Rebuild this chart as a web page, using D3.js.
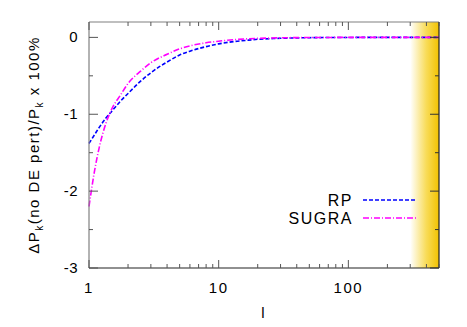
<!DOCTYPE html>
<meta charset="utf-8" />
<style>
  body { margin: 0; background: #fff; }
  text { font-family: "Liberation Sans", Arial, sans-serif; }
  .curve { fill: none; stroke-width: 1.6px; }
</style>
<body>
<script src="https://d3js.org/d3.v7.min.js"></script>
<script>

// multipole l and the two fractional power differences
var ell   = [1, 1.1, 1.2, 1.35, 1.5, 1.75, 2, 2.5, 3, 4, 5, 6, 8, 10, 13, 16, 20, 25, 30, 40, 50, 70, 100, 150, 200, 300, 500];
var rp    = [-1.38, -1.27, -1.17, -1.05, -0.96, -0.83, -0.73, -0.57, -0.46, -0.32, -0.23, -0.18, -0.12, -0.085, -0.055, -0.04, -0.025, -0.017, -0.012, -0.007, -0.004, -0.002, -0.001, 0, 0, 0, 0];
var sugra = [-2.2, -1.75, -1.43, -1.12, -0.93, -0.75, -0.6, -0.44, -0.33, -0.22, -0.15, -0.11, -0.07, -0.05, -0.03, -0.02, -0.013, -0.009, -0.006, -0.003, -0.002, -0.001, 0, 0, 0, 0, 0];
var seriesNames = ["RP", "SUGRA"];
var xTicks = [1, 10, 100];
var yTicks = [0, -1, -2, -3];
var bandStart = 300;

var margin = {top: 22, right: 28, bottom: 59, left: 89},
    width = 467 - margin.left - margin.right,
    height = 327 - margin.top - margin.bottom;

var x = d3.scaleLog().domain([1, 500]).range([0, width]);
var y = d3.scaleLinear().domain([-3, 0.2]).range([height, 0]);

var svg = d3.select("body").append("svg")
    .attr("width", 467)
    .attr("height", 327);

var defs = svg.append("defs");
var grad = defs.append("linearGradient").attr("id", "band")
    .attr("x1", "0%").attr("x2", "100%").attr("y1", "0%").attr("y2", "0%");
grad.append("stop").attr("offset", "0%").attr("stop-color", "#fff").attr("stop-opacity", 1);
grad.append("stop").attr("offset", "55%").attr("stop-color", "#f8dc5a");
grad.append("stop").attr("offset", "100%").attr("stop-color", "#f2c200");

var g = svg.append("g")
    .attr("transform", "translate(" + margin.left + "," + margin.top + ")");

// yellow band at high l
g.append("rect")
    .attr("x", x(bandStart))
    .attr("y", 0)
    .attr("width", width - x(bandStart))
    .attr("height", height)
    .attr("fill", "url(#band)");

// curves
var line = d3.line()
    .x(function(d) { return x(d[0]); })
    .y(function(d) { return y(d[1]); })
    .curve(d3.curveMonotoneX);

var colors = ["#0000ff", "#ff00ff"];
var dashes = ["4,2", "6,2,1,2"];
[rp, sugra].forEach(function(vals, i) {
  g.append("path")
      .datum(ell.map(function(l, j) { return [l, vals[j]]; }))
      .attr("class", "curve")
      .attr("stroke", colors[i])
      .attr("stroke-dasharray", dashes[i])
      .attr("d", line);
});

// frame
g.append("line").attr("x1", 0).attr("x2", width).attr("y1", 0).attr("y2", 0).attr("stroke", "#808080").attr("stroke-width", 1.2);
g.append("line").attr("x1", 0).attr("x2", 0).attr("y1", 0).attr("y2", height).attr("stroke", "#808080").attr("stroke-width", 1.2);
g.append("line").attr("x1", 0).attr("x2", width).attr("y1", height).attr("y2", height).attr("stroke", "#222").attr("stroke-width", 1.2);
g.append("line").attr("x1", width).attr("x2", width).attr("y1", 0).attr("y2", height).attr("stroke", "#222").attr("stroke-width", 1.2);

// x ticks (major + minor), mirrored on top
var xMinor = [];
[1, 10, 100].forEach(function(dec) {
  for (var k = 2; k <= 9; k++) { if (dec * k <= 500) xMinor.push(dec * k); }
});
xMinor.forEach(function(v) {
  g.append("line").attr("x1", x(v)).attr("x2", x(v)).attr("y1", height).attr("y2", height - 4).attr("stroke", "#555");
  g.append("line").attr("x1", x(v)).attr("x2", x(v)).attr("y1", 0).attr("y2", 4).attr("stroke", "#555");
});
xTicks.forEach(function(v) {
  g.append("line").attr("x1", x(v)).attr("x2", x(v)).attr("y1", height).attr("y2", height - 8).attr("stroke", "#555");
  g.append("line").attr("x1", x(v)).attr("x2", x(v)).attr("y1", 0).attr("y2", 8).attr("stroke", "#555");
  g.append("text")
      .attr("x", x(v)).attr("y", height + 25)
      .attr("text-anchor", "middle")
      .style("font-size", "15px")
      .style("letter-spacing", "1.5px")
      .text(v);
});

// y ticks (major + minor), mirrored on right
[-0.5, -1.5, -2.5].forEach(function(v) {
  g.append("line").attr("x1", 0).attr("x2", 4).attr("y1", y(v)).attr("y2", y(v)).attr("stroke", "#555");
  g.append("line").attr("x1", width).attr("x2", width - 4).attr("y1", y(v)).attr("y2", y(v)).attr("stroke", "#333");
});
yTicks.forEach(function(v) {
  g.append("line").attr("x1", 0).attr("x2", 9).attr("y1", y(v)).attr("y2", y(v)).attr("stroke", "#555");
  g.append("line").attr("x1", width).attr("x2", width - 9).attr("y1", y(v)).attr("y2", y(v)).attr("stroke", "#333");
  g.append("text")
      .attr("x", -11).attr("y", y(v) + 5)
      .attr("text-anchor", "end")
      .style("font-size", "15px")
      .style("letter-spacing", "0.5px")
      .text(v);
});

// axis titles
svg.append("text")
    .attr("x", 263).attr("y", 318)
    .attr("text-anchor", "middle")
    .style("font-size", "15px")
    .text("l");

var ylab = svg.append("text")
    .attr("transform", "translate(39,145)rotate(-90)")
    .attr("text-anchor", "middle")
    .style("font-size", "15px")
    .style("letter-spacing", "1.5px");
ylab.append("tspan").text("\u0394P");
ylab.append("tspan").attr("dy", 4).style("font-size", "10px").text("k");
ylab.append("tspan").attr("dy", -4).text("(no DE pert)/P");
ylab.append("tspan").attr("dy", 4).style("font-size", "10px").text("k");
ylab.append("tspan").attr("dy", -4).text(" x 100%");

// legend
var legY = [200, 218];
seriesNames.forEach(function(name, i) {
  svg.append("text")
      .attr("x", 353).attr("y", legY[i] + 6)
      .attr("text-anchor", "end")
      .style("font-size", "16px")
      .style("letter-spacing", "1.5px")
      .text(name);
  svg.append("line")
      .attr("x1", 363).attr("x2", 416)
      .attr("y1", legY[i]).attr("y2", legY[i])
      .attr("stroke", colors[i])
      .attr("stroke-width", 1.3)
      .attr("stroke-dasharray", dashes[i]);
});

</script>
</body>
